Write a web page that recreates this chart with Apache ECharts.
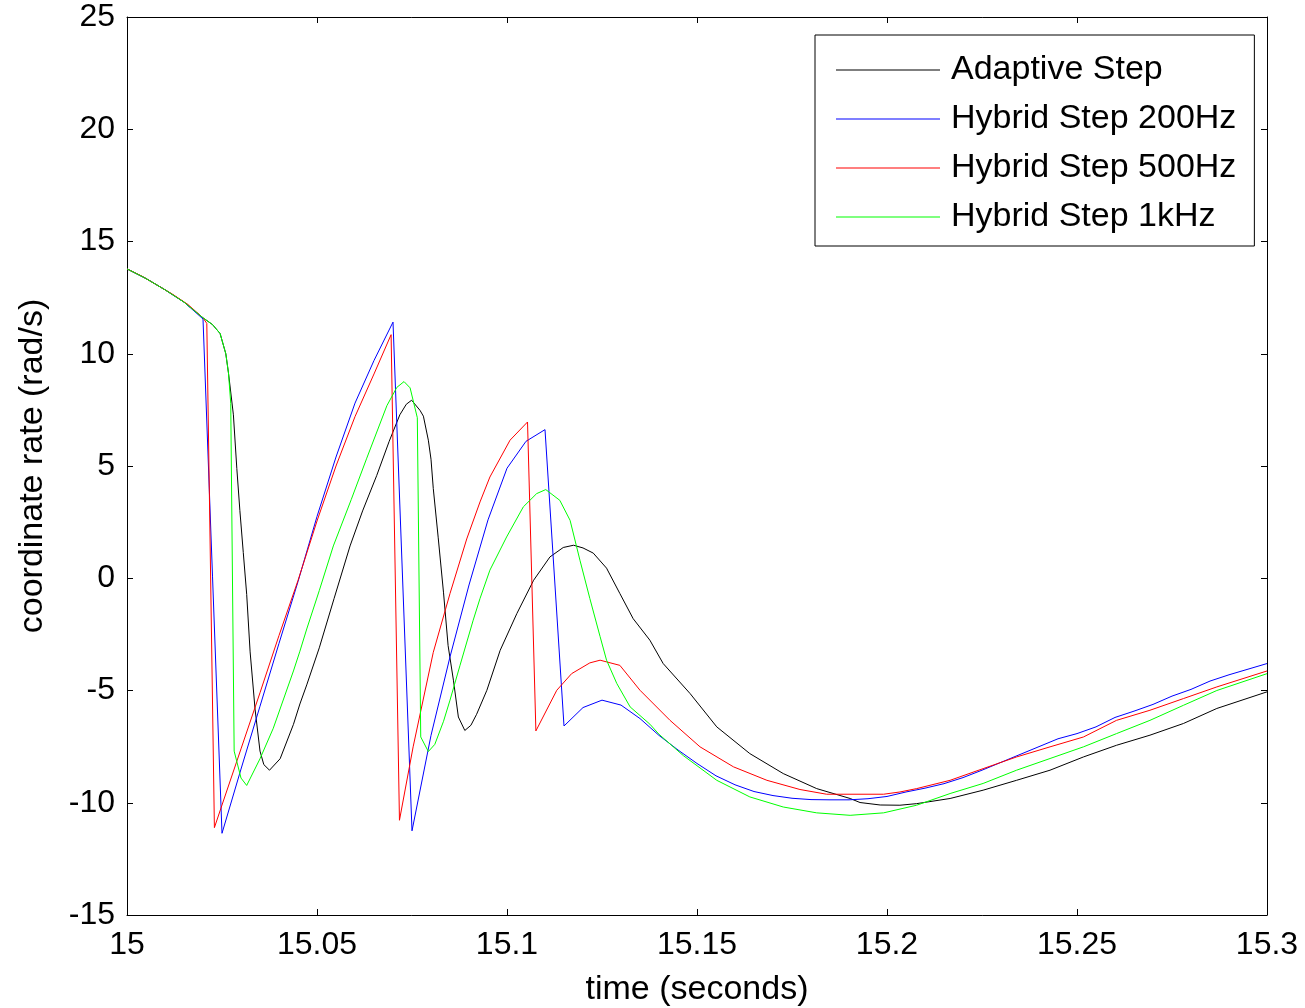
<!DOCTYPE html>
<html>
<head>
<meta charset="utf-8">
<script src="https://cdn.jsdelivr.net/npm/echarts@6/dist/echarts.min.js"></script>
<style>
  html, body { margin: 0; padding: 0; background: #fff; }
  #chart { width: 1305px; height: 1008px; }
</style>
</head>
<body>
<div id="chart"></div>
<script>
// ---- Data (time in seconds, coordinate rate in rad/s) ----
const seriesNames = ['Adaptive Step', 'Hybrid Step 200Hz', 'Hybrid Step 500Hz', 'Hybrid Step 1kHz'];
const seriesColors = ['#000000', '#0000ff', '#ff0000', '#00ff00'];

const xTickLabels = ['15', '15.05', '15.1', '15.15', '15.2', '15.25', '15.3'];
const yTickLabels = ['-15', '-10', '-5', '0', '5', '10', '15', '20', '25'];

const adaptiveStep = [
  [15.000, 13.78], [15.005, 13.35], [15.010, 12.85], [15.015, 12.30], [15.020, 11.60],
  [15.0225, 11.30], [15.0245, 10.90], [15.026, 10.00], [15.0267, 9.15],
  [15.028, 7.28], [15.0289, 4.89], [15.0297, 3.02], [15.0306, 1.15], [15.0315, -0.72],
  [15.0324, -3.28], [15.0337, -5.83], [15.035, -7.70], [15.036, -8.30], [15.0375, -8.55],
  [15.0403, -8.04], [15.0438, -6.51], [15.0455, -5.60], [15.0473, -4.75], [15.0506, -3.10],
  [15.0545, -0.90], [15.0587, 1.44], [15.0620, 3.00], [15.0657, 4.57], [15.0690, 6.10],
  [15.0718, 7.28], [15.0735, 7.75], [15.0749, 7.93], [15.0771, 7.48], [15.0780, 7.22],
  [15.0793, 6.15], [15.0800, 5.30], [15.0806, 4.00], [15.0819, 1.80], [15.0833, -0.65],
  [15.0845, -3.00], [15.0859, -4.54], [15.0872, -6.18], [15.0889, -6.78], [15.0905, -6.55],
  [15.0920, -6.06], [15.0947, -4.99], [15.0982, -3.21], [15.1026, -1.57], [15.1070, -0.09],
  [15.1113, 0.95], [15.1148, 1.37], [15.1175, 1.47], [15.1200, 1.35], [15.1227, 1.12],
  [15.1262, 0.45], [15.1297, -0.68], [15.1332, -1.80], [15.1376, -2.76], [15.1411, -3.80],
  [15.1482, -5.14], [15.1552, -6.62], [15.1639, -7.81], [15.1727, -8.70], [15.1815, -9.37],
  [15.1903, -9.81], [15.1929, -9.99], [15.1982, -10.10], [15.2034, -10.11], [15.2078, -10.04],
  [15.2166, -9.81], [15.2253, -9.44], [15.2341, -9.00], [15.2429, -8.55], [15.2517, -7.96],
  [15.2604, -7.44], [15.2692, -6.99], [15.2780, -6.47], [15.2868, -5.80], [15.3000, -5.06]
];

const hybrid200 = [
  [15.000, 13.78], [15.005, 13.35], [15.010, 12.85], [15.015, 12.30], [15.020, 11.55],
  [15.025, -11.36], [15.030, -8.50], [15.035, -5.70], [15.040, -2.90], [15.045, -0.15],
  [15.050, 2.75], [15.055, 5.40], [15.060, 7.80], [15.065, 9.70], [15.070, 11.41],
  [15.075, -11.25], [15.080, -7.00], [15.085, -3.50], [15.090, -0.30], [15.095, 2.60],
  [15.100, 4.90], [15.105, 6.10], [15.110, 6.62],
  [15.115, -6.58], [15.120, -5.76], [15.125, -5.43], [15.130, -5.65], [15.135, -6.25],
  [15.140, -7.00], [15.145, -7.65], [15.150, -8.25], [15.155, -8.80], [15.160, -9.20],
  [15.165, -9.50], [15.170, -9.68], [15.175, -9.80], [15.180, -9.86], [15.185, -9.87],
  [15.190, -9.87], [15.195, -9.82], [15.200, -9.72], [15.205, -9.52], [15.210, -9.35],
  [15.215, -9.15], [15.220, -8.88], [15.225, -8.55], [15.230, -8.20], [15.235, -7.85],
  [15.240, -7.50], [15.245, -7.15], [15.250, -6.92], [15.255, -6.62], [15.260, -6.20],
  [15.265, -5.92], [15.270, -5.62], [15.275, -5.25], [15.280, -4.95], [15.285, -4.58],
  [15.290, -4.30], [15.295, -4.05], [15.300, -3.80]
];

const hybrid500 = [
  [15.000, 13.78], [15.004, 13.45], [15.008, 13.05], [15.012, 12.65], [15.016, 12.20],
  [15.020, 11.60], [15.021, 11.35], [15.023, -11.11], [15.025, -10.10], [15.030, -7.60],
  [15.035, -5.10], [15.040, -2.55], [15.045, -0.10], [15.050, 2.55], [15.055, 5.00],
  [15.060, 7.20], [15.065, 9.10], [15.0695, 10.85],
  [15.0717, -10.78], [15.0753, -7.51], [15.0806, -3.30], [15.0850, -0.68], [15.0894, 1.75],
  [15.0929, 3.40], [15.0955, 4.51], [15.1008, 6.15], [15.1054, 6.96],
  [15.1076, -6.80], [15.1131, -4.99], [15.1170, -4.25], [15.1218, -3.77], [15.1245, -3.65],
  [15.1297, -3.88], [15.1350, -4.99], [15.1429, -6.33], [15.1508, -7.51], [15.1596, -8.40],
  [15.1684, -9.00], [15.1771, -9.41], [15.1841, -9.62], [15.1991, -9.62], [15.2034, -9.52],
  [15.2078, -9.37], [15.2166, -9.00], [15.2253, -8.48], [15.2341, -7.96], [15.2429, -7.51],
  [15.2517, -7.07], [15.2604, -6.33], [15.2692, -5.88], [15.2780, -5.36], [15.2868, -4.84],
  [15.3000, -4.13]
];

const hybrid1k = [
  [15.000, 13.78], [15.005, 13.35], [15.010, 12.85], [15.015, 12.30], [15.020, 11.60],
  [15.0225, 11.30], [15.0245, 10.90], [15.026, 10.00], [15.0267, 9.15], [15.0273, 7.79],
  [15.0282, -7.70], [15.0300, -8.90], [15.0315, -9.23], [15.0350, -8.04], [15.0385, -6.68],
  [15.0438, -4.13], [15.0455, -3.25], [15.0473, -2.26], [15.0506, -0.55], [15.0543, 1.44],
  [15.0590, 3.50], [15.0631, 5.35], [15.0684, 7.69], [15.0710, 8.50], [15.0729, 8.76],
  [15.0745, 8.48], [15.0764, 7.15], [15.0773, -7.07], [15.0793, -7.72], [15.0810, -7.40],
  [15.0833, -6.37], [15.0850, -5.43], [15.0876, -3.90], [15.0911, -1.87], [15.0929, -0.90],
  [15.0955, 0.36], [15.0999, 1.84], [15.1043, 3.18], [15.1078, 3.77], [15.1102, 3.95],
  [15.1139, 3.47], [15.1166, 2.58], [15.1192, 0.80], [15.1218, -0.90], [15.1245, -2.60],
  [15.1262, -3.65], [15.1289, -4.69], [15.1324, -5.73], [15.1376, -6.50], [15.1400, -6.95],
  [15.1464, -7.90], [15.1552, -9.00], [15.1639, -9.74], [15.1727, -10.19], [15.1815, -10.45],
  [15.1903, -10.56], [15.1991, -10.45], [15.2078, -10.11], [15.2166, -9.59], [15.2253, -9.14],
  [15.2341, -8.55], [15.2429, -8.03], [15.2517, -7.51], [15.2604, -6.92], [15.2692, -6.33],
  [15.2780, -5.66], [15.2868, -5.00], [15.3000, -4.25]
];

const seriesData = [adaptiveStep, hybrid200, hybrid500, hybrid1k];

// ---- Chart ----
const FONT = '"Liberation Sans", Arial, sans-serif';
const chart = echarts.init(document.getElementById('chart'), null, { renderer: 'canvas' });

const xLabelFmt = v => xTickLabels[Math.round((v - 15) / 0.05)] || '';
const yLabelFmt = v => yTickLabels[Math.round((v + 15) / 5)] || '';

const tickStyle = { show: true, inside: true, length: 6, lineStyle: { color: '#000', width: 1 } };
const lineStyleAxis = { show: true, onZero: false, lineStyle: { color: '#000', width: 1 } };

chart.setOption({
  animation: false,
  backgroundColor: '#ffffff',
  textStyle: { fontFamily: FONT },
  grid: { left: 127, right: 38, top: 17, bottom: 93, containLabel: false, outerBoundsMode: 'none' },
  legend: {
    orient: 'vertical',
    left: 815,
    top: 35,
    padding: [18, 18, 12, 21],
    itemGap: 15,
    itemWidth: 104,
    itemHeight: 1,
    icon: 'rect',
    backgroundColor: '#ffffff',
    borderColor: '#000000',
    borderWidth: 1,
    borderRadius: 0,
    textStyle: { fontFamily: FONT, fontSize: 34, color: '#000', lineHeight: 34, padding: [0, 0, 0, 6] },
    data: seriesNames
  },
  xAxis: [
    {
      type: 'value', position: 'bottom', min: 15, max: 15.3, interval: 0.05,
      name: 'time (seconds)', nameLocation: 'middle', nameGap: 58,
      nameTextStyle: { fontFamily: FONT, fontSize: 34, color: '#000' },
      axisLine: lineStyleAxis, axisTick: tickStyle,
      axisLabel: { fontFamily: FONT, fontSize: 32, color: '#000', margin: 14, formatter: xLabelFmt },
      splitLine: { show: false }
    },
    {
      type: 'value', position: 'top', min: 15, max: 15.3, interval: 0.05,
      axisLine: lineStyleAxis, axisTick: tickStyle, axisLabel: { show: false }, splitLine: { show: false }
    }
  ],
  yAxis: [
    {
      type: 'value', position: 'left', min: -15, max: 25, interval: 5,
      name: 'coordinate rate (rad/s)', nameLocation: 'middle', nameGap: 77,
      nameTextStyle: { fontFamily: FONT, fontSize: 34, color: '#000' },
      axisLine: lineStyleAxis, axisTick: tickStyle,
      axisLabel: { fontFamily: FONT, fontSize: 32, color: '#000', margin: 12, formatter: yLabelFmt },
      splitLine: { show: false }
    },
    {
      type: 'value', position: 'right', min: -15, max: 25, interval: 5,
      axisLine: lineStyleAxis, axisTick: tickStyle, axisLabel: { show: false }, splitLine: { show: false }
    }
  ],
  series: seriesNames.map((name, i) => ({
    name: name,
    type: 'line',
    xAxisIndex: 0,
    yAxisIndex: 0,
    data: seriesData[i],
    symbol: 'none',
    smooth: false,
    lineStyle: { color: seriesColors[i], width: 1 },
    itemStyle: { color: seriesColors[i] },
    emphasis: { disabled: true }
  }))
});
</script>
</body>
</html>
